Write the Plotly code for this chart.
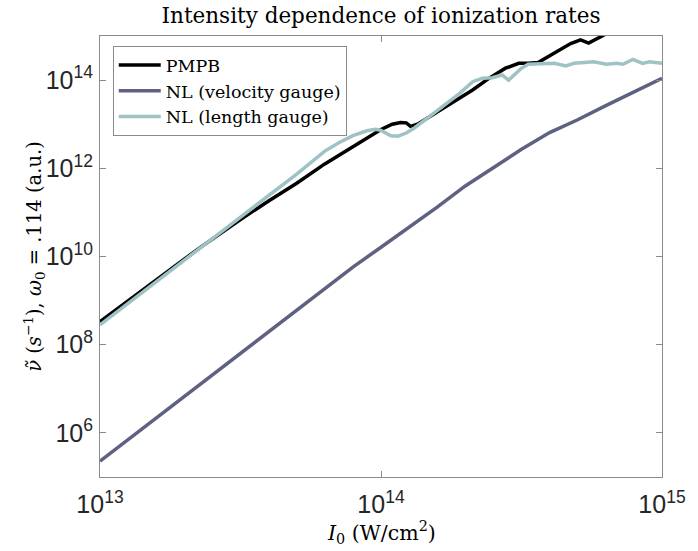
import numpy as np
import plotly.graph_objects as go

# Ionization rate vs. peak intensity, stored as log10 values
# PMPB
log_I_pmpb = [13.0, 13.1, 13.2, 13.3, 13.36, 13.4, 13.5, 13.6, 13.7, 13.8, 13.9, 13.95,
              14.0, 14.04, 14.07, 14.09, 14.105, 14.13, 14.163, 14.222, 14.28, 14.326,
              14.384, 14.443, 14.49, 14.524, 14.559, 14.617, 14.675, 14.71, 14.725,
              14.739, 14.787, 14.82]
log_rate_pmpb = [8.52, 9.0, 9.47, 9.94, 10.22, 10.40, 10.84, 11.26, 11.66, 12.10, 12.50, 12.70,
                 12.88, 13.00, 13.04, 13.03, 12.95, 13.00, 13.13, 13.36, 13.58, 13.776,
                 14.04, 14.27, 14.38, 14.38, 14.40, 14.61, 14.83, 14.91, 14.87,
                 14.84, 15.0, 15.12]

# NL, velocity gauge
log_I_vel = [13.0, 13.1, 13.2, 13.3, 13.4, 13.5, 13.6, 13.7, 13.8, 13.9, 14.0,
             14.1, 14.2, 14.3, 14.4, 14.5, 14.6, 14.7, 14.8, 14.9, 15.0]
log_rate_vel = [5.36, 5.85, 6.34, 6.83, 7.32, 7.81, 8.30, 8.79, 9.28, 9.76, 10.21,
                10.66, 11.12, 11.60, 12.02, 12.43, 12.81, 13.10, 13.42, 13.73, 14.04]

# NL, length gauge
log_I_len = [13.0, 13.1, 13.2, 13.3, 13.36, 13.4, 13.5, 13.6, 13.7, 13.8, 13.85, 13.9,
             13.95, 13.98, 14.0, 14.035, 14.06, 14.09, 14.12, 14.187, 14.23, 14.28,
             14.326, 14.361, 14.396, 14.431, 14.454, 14.50, 14.524, 14.582, 14.617,
             14.658, 14.687, 14.757, 14.803, 14.838, 14.861, 14.896, 14.931, 14.955, 15.0]
log_rate_len = [8.45, 8.94, 9.43, 9.92, 10.22, 10.41, 10.90, 11.38, 11.87, 12.39, 12.58, 12.74,
                12.85, 12.885, 12.86, 12.74, 12.73, 12.80, 12.92, 13.247, 13.45, 13.70,
                13.964, 14.04, 14.055, 14.116, 14.00, 14.27, 14.36, 14.38, 14.38,
                14.32, 14.38, 14.417, 14.36, 14.38, 14.36, 14.47, 14.38, 14.417, 14.38]

series = [
    ("PMPB", log_I_pmpb, log_rate_pmpb, "#000000"),
    ("NL (velocity gauge)", log_I_vel, log_rate_vel, "#5e6182"),
    ("NL (length gauge)", log_I_len, log_rate_len, "#9fc3c4"),
]

# Axis decades (log10 of intensity)
x_decades = [13, 14, 15]

SERIF = "DejaVu Serif, Liberation Serif, serif"
SANS = "Liberation Sans, Arial, sans-serif"
AX = "#8a8a8a"

fig = go.Figure()
for i, (name, lx, ly, color) in enumerate(series):
    fig.add_trace(go.Scatter(
        x=10 ** np.array(lx), y=10 ** np.array(ly), mode="lines", name=name,
        legendgroup=f"g{i}",
        line=dict(color=color, width=3.5),
    ))

axis_common = dict(
    type="log", showgrid=False, zeroline=False,
    showline=True, linecolor=AX, linewidth=1, mirror="allticks",
    ticks="inside", tickcolor=AX, ticklen=6, exponentformat="power",
    tickfont=dict(family=SANS, size=20, color="#262626"),
)

x_minor = [k * 10.0 ** e for e in x_decades[:-1] for k in range(2, 10)]

fig.update_xaxes(**axis_common, range=[x_decades[0], x_decades[-1]], dtick=1,
                 ticklabelstandoff=6)
fig.update_yaxes(**axis_common, range=[5, 15], dtick=2, ticklabelstandoff=2)

fig.update_layout(
    width=698, height=551,
    margin=dict(l=100, r=25, t=36, b=74),
    paper_bgcolor="white", plot_bgcolor="white",
    # unlabeled overlay axis carrying the minor (2..9) intensity ticks, top and bottom
    xaxis2=dict(type="log", overlaying="x", anchor="y", side="bottom",
                range=[x_decades[0], x_decades[-1]], tickmode="array", tickvals=x_minor,
                ticks="inside", ticklen=3, tickcolor=AX, showticklabels=False,
                showline=False, showgrid=False, zeroline=False, mirror="allticks"),
    title=dict(text="Intensity dependence of ionization rates", xref="paper", x=0.5,
               xanchor="center", yref="container", y=1 - 15 / 551, yanchor="middle",
               font=dict(family=SERIF, size=21.5, color="#000")),
    legend=dict(x=0.0227, y=0.977, xanchor="left", yanchor="top",
                bgcolor="white", bordercolor=AX, borderwidth=1,
                font=dict(family=SERIF, size=17.5, color="#000"),
                tracegroupgap=0, itemwidth=42),
    showlegend=True,
    annotations=[
        dict(text="<i>I</i><sub>0</sub> (W/cm<sup>2</sup>)", xref="paper", yref="paper",
             x=0.5, y=(477 - 532) / 441, xanchor="center", yanchor="middle",
             showarrow=False, font=dict(family=SERIF, size=20.5, color="#000")),
        dict(text="<i>ν̃</i> (<i>s</i><sup>−1</sup>), <i>ω</i><sub>0</sub> = .114 (a.u.)",
             xref="paper", yref="paper", x=(32 - 100) / 573, y=0.5, textangle=-90,
             xanchor="center", yanchor="middle", showarrow=False,
             font=dict(family=SERIF, size=19.5, color="#000")),
    ],
)

fig.write_html("out.html")
